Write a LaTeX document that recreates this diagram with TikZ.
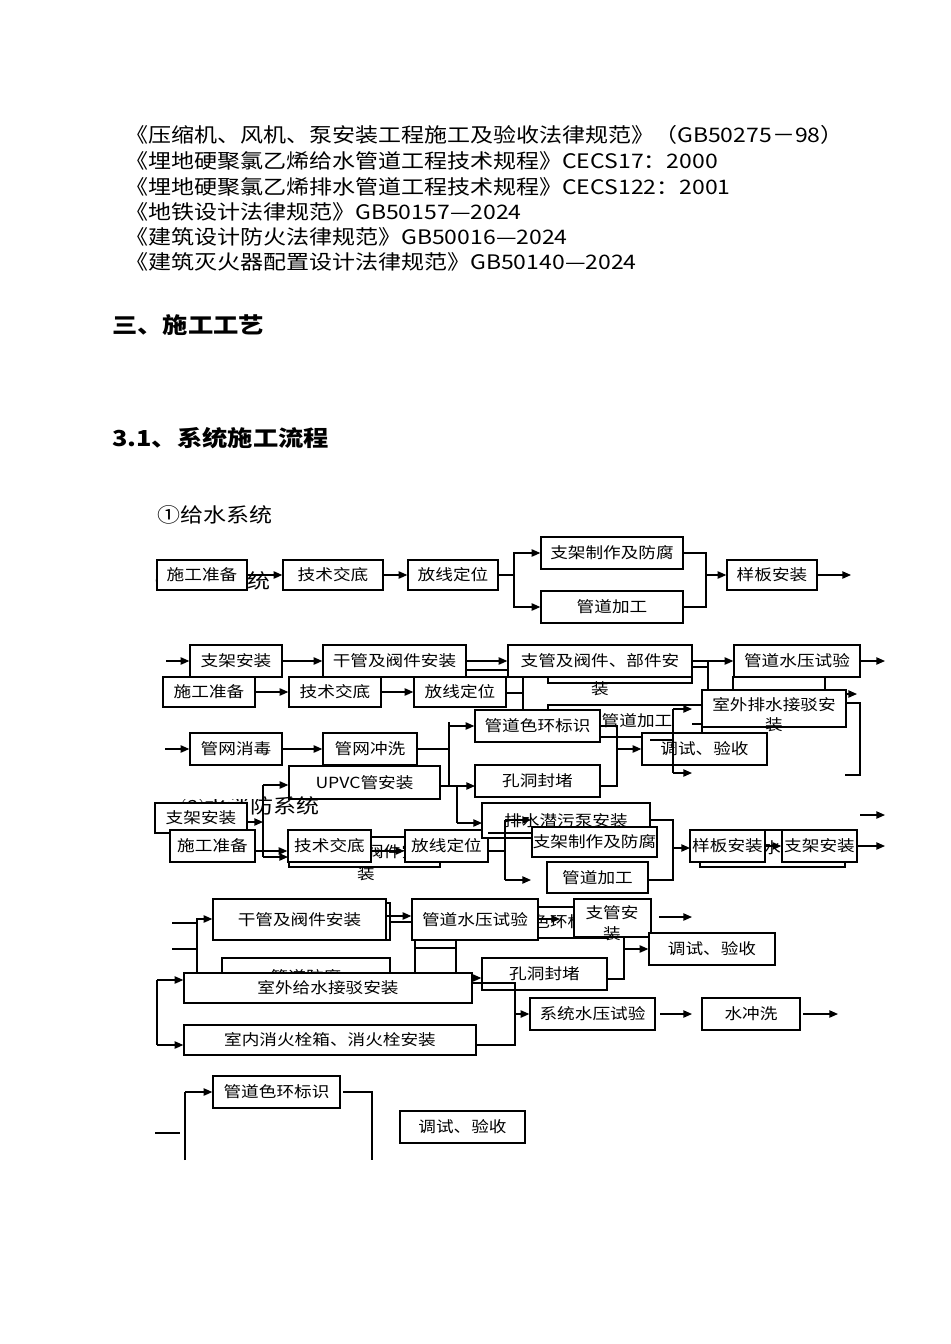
\documentclass[tikz,border=0pt]{standalone}
\usepackage{fontspec}
\usetikzlibrary{arrows.meta}
\newfontfamily\cjk[FakeStretch=1.15]{Noto Sans CJK SC}
\newcommand\boxfont{\cjk\fontsize{11.5}{13.5}\selectfont}
\newcommand\bodyfont{\cjk\fontsize{15}{18}\selectfont}
\newcommand\headfont{\cjk\bfseries\fontsize{16.5}{20}\selectfont}
\newcommand{\bx}[7][]{\node[box,minimum width={(#5-#3)*0.75pt},minimum height={(#6-#4)*0.75pt},#1] (#2) at ({(#3+#5)/2},{(#4+#6)/2}) {#7};}
\begin{document}
\begin{tikzpicture}[x=0.75pt,y=-0.75pt,
 box/.style={draw,fill=white,line width=1pt,inner sep=0pt,font=\boxfont},
 ln/.style={line width=1pt},
 arr/.style={line width=1pt,-{Triangle[length=6.5pt,width=5.5pt]}},
 txt/.style={inner sep=0pt,font=\boxfont},
 body/.style={inner sep=0pt,anchor=base west,font=\bodyfont}]
\fill[white] (0,0) rectangle (950,1344);
\useasboundingbox (0,0) rectangle (950,1344);
% ---- text
\node[body] (t1) at (125,143) {《压缩机、风机、泵安装工程施工及验收法律规范》（GB50275－98）};
\node[body] (t2) at (125,169) {《埋地硬聚氯乙烯给水管道工程技术规程》CECS17：2000};
\node[body] (t3) at (125,195) {《埋地硬聚氯乙烯排水管道工程技术规程》CECS122：2001};
\node[body] (t4) at (125,220) {《地铁设计法律规范》GB50157—2024};
\node[body] (t5) at (125,245) {《建筑设计防火法律规范》GB50016—2024};
\node[body] (t6) at (125,270) {《建筑灭火器配置设计法律规范》GB50140—2024};
\node[body,font=\headfont] (h1) at (112,334) {三、施工工艺};
\node[body,font=\headfont] (h2) at (112,446) {3.1、系统施工流程};
\node[body] (h3) at (157,522) {①给水系统};
\node[body,anchor=base east] (hid1) at (271,588) {②排水系统};
% ---- row 1
\bx{r1a}{157}{560}{247}{590}{施工准备}
\bx{r1b}{283}{560}{383}{590}{技术交底}
\bx{r1c}{408}{560}{498}{590}{放线定位}
\bx{r1d}{541}{537}{683}{569}{支架制作及防腐}
\bx{r1e}{541}{591}{683}{623}{管道加工}
\bx{r1f}{727}{560}{817}{590}{样板安装}
\draw[arr] (r1a.east) -- (r1b.west);
\draw[arr] (r1b.east) -- (r1c.west);
\draw[ln] (r1c.east) -- (514,575) coordinate (s1);
\draw[arr] (s1) |- (r1d.west);
\draw[arr] (s1) |- (r1e.west);
\draw[ln] (r1d.east) -- (706,553) coordinate (s2) -- (706,607) -- (r1e.east);
\draw[arr] (706,575) -- (r1f.west);
\draw[arr] (r1f.east) -- (851,575);
% ---- row 2 (back layers)
\bx{r2k}{733}{677}{825}{712}{}
\node[txt] (r2kt) at (782,697) {样板安装};
\draw[arr] (825,694) -- (857,694);
\draw[ln,fill=white] (548,650) rectangle (692,683);
\draw[ln] (506,693) -- (523,693);
\draw[ln] (523,677) -- (523,730);
\bx{r2j}{548}{705}{702}{737}{}
\node[txt] (r2jt) at (637,721) {管道加工};
% row 2 front
\bx{r2a}{190}{645}{282}{677}{支架安装}
\bx{r2b}{323}{645}{466}{677}{干管及阀件安装}
\bx{r2c}{163}{677}{255}{707}{施工准备}
\bx{r2d}{289}{677}{381}{707}{技术交底}
\bx{r2e}{414}{677}{506}{707}{放线定位}
\bx{r2f}{508}{645}{692}{677}{}
\node[txt] (r2ft) at (600,661) {支管及阀件、部件安};
\node[txt] (r2fu) at (600,689) {装};
\bx{r2g}{734}{645}{860}{677}{管道水压试验}
\draw[arr] (166,661) -- (r2a.west);
\draw[arr] (r2a.east) -- (r2b.west);
\draw[arr] (r2b.east) -- (r2f.west);
\draw[ln] (466,670) -- (508,670);
\draw[arr] (r2c.east) -- (r2d.west);
\draw[arr] (r2d.east) -- (r2e.west);
\draw[ln] (r2f.east) -- (708,661) -- (708,690);
\draw[ln] (692,667) -- (708,667);
\draw[arr] (708,661) -- (r2g.west);
\draw[arr] (r2g.east) -- (885,661);
\draw[ln] (692,724) -- (702,724);
\bx{r2i}{702}{690}{846}{727}{}
\node[txt] (r2it) at (774,705) {室外排水接驳安};
\node[txt] (r2iu) at (774,725) {装};
\draw[ln] (846,703) -- (860,703) -- (860,775) -- (845,775);
% ---- row 3
\bx{r3a}{190}{733}{282}{765}{管网消毒}
\bx{r3b}{323}{733}{417}{765}{管网冲洗}
\bx{r3u}{289}{766}{440}{799}{UPVC管安装}
\bx{r3c}{475}{710}{600}{742}{管道色环标识}
\bx{r3d}{475}{765}{600}{797}{孔洞封堵}
\bx{r3e}{642}{733}{767}{765}{调试、验收}
\draw[arr] (165,749) -- (r3a.west);
\draw[arr] (r3a.east) -- (r3b.west);
\draw[ln] (r3b.east) -- (449,749) coordinate (s3);
\draw[arr] (449,722) |- (r3c.west);
\draw[ln] (449,722) -- (449,786);
\draw[arr] (449,786) -- (475,786);
\draw[ln] (r3c.east) -- (617,726) -- (617,786) -- (600,786);
\draw[arr] (617,749) -- (r3e.west);
\draw[arr] (673,709) -- (692,709);
\draw[ln] (673,709) -- (673,773);
\draw[arr] (673,773) -- (692,773);
\draw[ln] (650,740) -- (673,740);
% ---- row 4
\node[body] (hid2) at (181,813) {②水消防系统};
\fill[white] (178,783) rectangle (262,799);
\draw[ln] (263,785) -- (263,857);
\draw[arr] (263,785) -- (r3u.west |- 263,785);
\draw[ln] (r3u.east |- 0,786) -- (457,786) -- (457,823);
\draw[arr] (457,823) -- (482,823);
\bx{r4a}{155}{803}{247}{833}{支架安装}
\draw[arr] (247,822) -- (263,822);
\bx{r4h}{289}{837}{440}{867}{}
\node[txt] (r4ht) at (366,852) {干管及阀件安};
\node[txt] (r4hu) at (366,874) {装};
\bx{r4b}{170}{830}{255}{862}{施工准备}
\bx{r4c}{288}{830}{371}{862}{技术交底}
\bx{r4d}{405}{830}{488}{862}{放线定位}
\draw[arr] (r4b.east |- 0,851) -- (r4c.west |- 0,851);
\draw[arr] (263,857) -- (288,857);
\draw[arr] (r4c.east |- 0,851) -- (r4d.west |- 0,851);
\bx{r4e}{482}{803}{650}{838}{排水潜污泵安装}
\draw[ln] (488,833) -- (532,833);
\draw[ln] (488,851) -- (505,851);
\draw[ln] (505,820) -- (505,880);
\draw[arr] (505,820) -- (531,820);
\draw[arr] (505,880) -- (531,880);
\bx{r4f}{532}{827}{657}{857}{支架制作及防腐}
\bx{r4g}{547}{862}{648}{893}{管道加工}
\draw[ln] (650,820) -- (673,820) -- (673,880) -- (648,880);
\draw[arr] (673,848) -- (690,848);
\bx{r4k}{700}{830}{845}{867}{}
\node[txt] (r4kt) at (772,848) {室外排水接驳安};
\bx{r4i}{690}{830}{765}{862}{样板安装}
\bx{r4j}{782}{830}{857}{862}{支架安装}
\draw[arr] (r4i.east) -- (r4j.west);
\draw[arr] (r4j.east) -- (885,846);
\draw[arr] (860,815) -- (885,815);
% ---- row 5
\draw[ln,fill=white] (213,903) rectangle (390,940);
\draw[ln] (172,923) -- (197,923);
\draw[ln] (172,949) -- (197,949);
\draw[ln] (197,918) -- (197,978);
\bx{r5a}{213}{899}{386}{940}{干管及阀件安装}
\draw[arr] (197,919) -- (r5a.west |- 0,919);
\bx{r5h}{487}{907}{607}{938}{}
\node[txt] (r5ht) at (550,922) {管道色环标识};
\bx{r5b}{412}{899}{538}{940}{管道水压试验}
\draw[arr] (r5a.east |- 0,916) -- (r5b.west |- 0,916);
\draw[ln] (390,922) -- (412,922);
\draw[arr] (538,919) -- (560,919);
\bx{r5c}{574}{899}{651}{937}{}
\node[txt] (r5ct) at (612,913) {支管安};
\node[txt] (r5cu) at (612,934) {装};
\draw[arr] (659,917) -- (692,917);
\draw[ln] (415,940) -- (415,975);
\draw[ln] (456,940) -- (456,975);
\draw[ln] (415,948) -- (456,948);
\bx{r5d}{222}{958}{390}{990}{}
\node[txt] (r5dt) at (306,977) {管道防腐};
\bx{r5e}{184}{973}{472}{1003}{室外给水接驳安装}
\draw[ln] (157,980) -- (157,1045);
\draw[arr] (157,980) -- (r5e.west |- 0,980);
\bx{r5f}{184}{1025}{476}{1055}{室内消火栓箱、消火栓安装}
\draw[arr] (157,1045) -- (r5f.west |- 0,1045);
\bx{r5g}{482}{958}{607}{990}{孔洞封堵}
\draw[arr] (472,978) -- (r5g.west |- 0,978);
\draw[ln] (473,983) -- (515,983) -- (515,1045) -- (r5f.east |- 0,1045);
\bx{r5i}{530}{998}{655}{1030}{系统水压试验}
\bx{r5j}{702}{998}{800}{1030}{水冲洗}
\draw[arr] (515,1014) -- (r5i.west);
\draw[arr] (660,1014) -- (692,1014);
\draw[arr] (803,1014) -- (838,1014);
\bx{r5k}{649}{933}{775}{965}{调试、验收}
\draw[ln] (624,937) -- (624,979) -- (r5g.east |- 0,979);
\draw[arr] (624,949) -- (r5k.west);
% ---- row 6
\bx{r6a}{213}{1076}{340}{1108}{管道色环标识}
\bx{r6b}{400}{1111}{525}{1143}{调试、验收}
\draw[ln] (155,1133) -- (180,1133);
\draw[ln] (185,1160) -- (185,1092);
\draw[arr] (185,1092) -- (r6a.west);
\draw[ln] (343,1092) -- (372,1092) -- (372,1160);
\end{tikzpicture}
\end{document}
